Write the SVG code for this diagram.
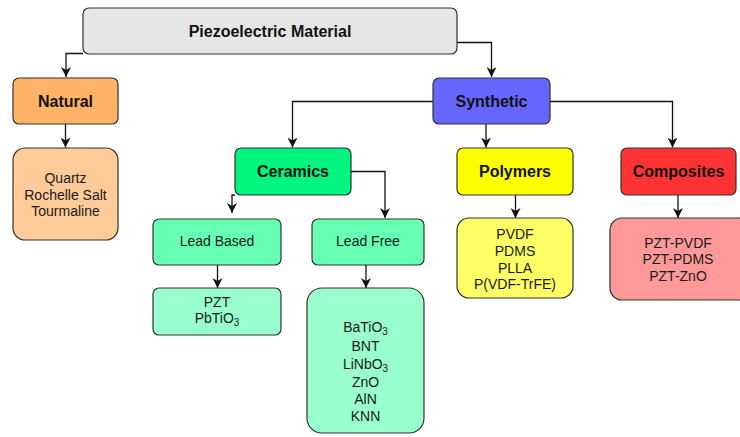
<svg xmlns="http://www.w3.org/2000/svg" width="740" height="437" viewBox="0 0 740 437">
<defs>
<style>
.box{stroke:#333;stroke-width:1.2}
.t{font-family:"Liberation Sans",Arial,sans-serif;font-size:16px;font-weight:bold;fill:#111;text-anchor:middle}
.s{font-family:"Liberation Sans",Arial,sans-serif;font-size:14px;fill:#1a1a1a;text-anchor:middle}
.sub{font-size:10px}
.c{fill:none;stroke:#111;stroke-width:1.3}
</style>
<marker id="ah" viewBox="0 0 10 10" refX="10" refY="5" markerWidth="10" markerHeight="10" markerUnits="userSpaceOnUse" orient="auto">
<path d="M0,0 L10,5 L0,10 L3,5 z" fill="#111"/>
</marker>
</defs>
<rect width="740" height="437" fill="#fff"/>
<g id="connectors">
<path class="c" d="M83,53.5 H66 V77" marker-end="url(#ah)"/>
<path class="c" d="M457,42.5 H491.5 V77" marker-end="url(#ah)"/>
<path class="c" d="M65.5,124 V147.5" marker-end="url(#ah)"/>
<path class="c" d="M433,101.5 H292.5 V147.5" marker-end="url(#ah)"/>
<path class="c" d="M486,124 V147.5" marker-end="url(#ah)"/>
<path class="c" d="M550,101.5 H672.5 V147.5" marker-end="url(#ah)"/>
<path class="c" d="M235,195 H232 V213" marker-end="url(#ah)"/>
<path class="c" d="M351,171.5 H385 V218" marker-end="url(#ah)"/>
<path class="c" d="M217.5,265 V288" marker-end="url(#ah)"/>
<path class="c" d="M366,265 V288" marker-end="url(#ah)"/>
<path class="c" d="M515.5,195 V218" marker-end="url(#ah)"/>
<path class="c" d="M678,195 V218" marker-end="url(#ah)"/>
</g>
<g id="root">
<rect class="box" x="83" y="8" width="374" height="46" rx="6" fill="#e6e6e6"/>
<text class="t" x="270" y="36.5">Piezoelectric Material</text>
</g>
<g id="natural">
<rect class="box" x="13" y="78" width="105" height="46" rx="6" fill="#ffb366"/>
<text class="t" x="65.5" y="106.5">Natural</text>
</g>
<g id="natural-list">
<rect class="box" x="13" y="148" width="105" height="92" rx="12" fill="#ffcc99"/>
<text class="s" x="65.5" y="183.3">Quartz</text>
<text class="s" x="65.5" y="199.5">Rochelle Salt</text>
<text class="s" x="65.5" y="216">Tourmaline</text>
</g>
<g id="synthetic">
<rect class="box" x="433" y="78" width="117" height="46" rx="6" fill="#6666ff"/>
<text class="t" x="491.5" y="106.5">Synthetic</text>
</g>
<g id="ceramics">
<rect class="box" x="235" y="148" width="116" height="47" rx="6" fill="#00f57e"/>
<text class="t" x="293" y="176.7">Ceramics</text>
</g>
<g id="polymers">
<rect class="box" x="457" y="148" width="116" height="47" rx="6" fill="#ffff00"/>
<text class="t" x="515" y="177">Polymers</text>
</g>
<g id="composites">
<rect class="box" x="621" y="148" width="115" height="47" rx="6" fill="#ff3333"/>
<text class="t" x="678.5" y="177">Composites</text>
</g>
<g id="lead-based">
<rect class="box" x="153" y="219" width="128" height="46" rx="6" fill="#66ffb3"/>
<text class="s" x="217" y="246">Lead Based</text>
</g>
<g id="lead-free">
<rect class="box" x="312" y="219" width="112" height="46" rx="6" fill="#66ffb3"/>
<text class="s" x="368" y="246">Lead Free</text>
</g>
<g id="lead-based-list">
<rect class="box" x="153" y="288" width="128" height="47" rx="6" fill="#99ffcc"/>
<text class="s" x="217" y="306.7">PZT</text>
<text class="s" x="217" y="323.3">PbTiO<tspan class="sub" dy="3">3</tspan></text>
</g>
<g id="lead-free-list">
<rect class="box" x="307" y="288" width="117" height="145" rx="15" fill="#99ffcc"/>
<text class="s" x="365.5" y="331.5">BaTiO<tspan class="sub" dy="3">3</tspan></text>
<text class="s" x="365.5" y="351">BNT</text>
<text class="s" x="365.5" y="368.5">LiNbO<tspan class="sub" dy="3">3</tspan></text>
<text class="s" x="365.5" y="386.5">ZnO</text>
<text class="s" x="365.5" y="403.5">AlN</text>
<text class="s" x="365.5" y="421">KNN</text>
</g>
<g id="polymers-list">
<rect class="box" x="457" y="218" width="116" height="80" rx="12" fill="#ffff66"/>
<text class="s" x="515" y="238.5">PVDF</text>
<text class="s" x="515" y="255.5">PDMS</text>
<text class="s" x="515" y="272.5">PLLA</text>
<text class="s" x="515" y="289">P(VDF-TrFE)</text>
</g>
<g id="composites-list">
<rect class="box" x="610" y="218" width="140" height="82" rx="12" fill="#ff9999"/>
<text class="s" x="678" y="247.7">PZT-PVDF</text>
<text class="s" x="678" y="263.5">PZT-PDMS</text>
<text class="s" x="678" y="281">PZT-ZnO</text>
</g>
</svg>
